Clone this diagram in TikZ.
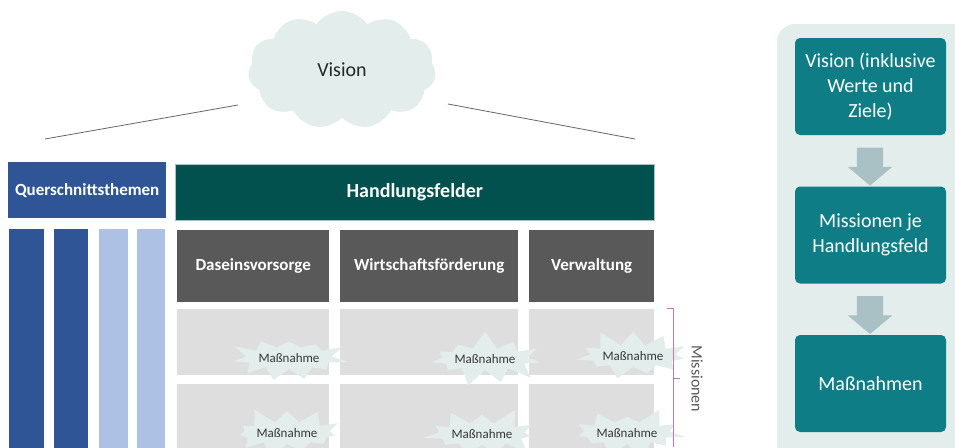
\documentclass[tikz,border=0pt]{standalone}
\usepackage{fontspec}
\setmainfont{Carlito}
\usetikzlibrary{shapes.symbols,shapes.arrows}

\definecolor{qblue}{HTML}{2F5597}
\definecolor{qlight}{HTML}{ADC1E5}
\definecolor{hteal}{HTML}{03514F}
\definecolor{hgray}{HTML}{595959}
\definecolor{mgray}{HTML}{DEDEDE}
\definecolor{haze}{HTML}{E2EDEC}
\definecolor{boxteal}{HTML}{0F7D86}
\definecolor{arrowgray}{HTML}{A9C1C5}
\definecolor{bracecol}{HTML}{C07AA5}

\tikzset{
	header/.style={
		fill=hgray, text=white, font=\fontsize{17}{20}\selectfont\bfseries,
		anchor=north west, inner sep=0pt, minimum height=72pt
	},
	field/.style={
		fill=mgray, anchor=north west, inner sep=0pt, minimum height=66pt
	},
	burst/.style={
		starburst, fill=haze, draw=none, starburst points=11,
		starburst point height=18pt, minimum width=108pt, minimum height=58pt,
		inner sep=0pt, font=\fontsize{13}{15}\selectfont, text=black!78
	},
	stepcard/.style={
		fill=boxteal, rounded corners=5pt, text=white, align=center,
		font=\fontsize{20}{25}\selectfont, minimum width=151pt, minimum height=97pt,
		inner sep=0pt
	},
	downarrow/.style={
		single arrow, fill=arrowgray, rotate=-90, inner xsep=0pt, inner ysep=13pt,
		single arrow head extend=9pt, single arrow tip angle=100,
		minimum height=38pt
	}
}

\begin{document}
\begin{tikzpicture}[x=1pt, y=-1pt]
	\useasboundingbox (0,0) rectangle (955,447);

	% Vision cloud and roof
	\node (vision)
	      [ cloud
	      , cloud puffs=11
	      , cloud puff arc=110
	      , aspect=1.7
	      , fill=haze
	      , minimum width=188pt
	      , minimum height=118pt
	      , font=\fontsize{20}{24}\selectfont
	      , text=black!85
	      ]
	      at (342,70)
	      {Vision};
	\coordinate (roofL) at (45,139);
	\coordinate (roofR) at (635,139);
	\coordinate (visL) at (238,105);
	\coordinate (visR) at (448,104);
	\draw [black!60, line width=0.8pt] (roofL) -- (visL);
	\draw [black!60, line width=0.8pt] (visR) -- (roofR);

	% Cross-cutting topics
	\node (quer)
	      [ fill=qblue
	      , text=white
	      , font=\fontsize{17}{20}\selectfont\bfseries
	      , anchor=north west
	      , minimum width=158pt
	      , minimum height=56pt
	      , inner sep=0pt
	      ]
	      at (8,162)
	      {Querschnittsthemen};
	\foreach \x/\w/\col [count=\i] in {9/35/qblue,54/34/qblue,99/29/qlight,137/28/qlight}{
		\node (bar\i)
		      [ fill=\col
		      , anchor=north west
		      , minimum width=\w pt
		      , minimum height=230pt
		      , inner sep=0pt
		      ]
		      at (\x,229)
		      {};
	}

	% Fields of action
	\node (hf)
	      [ fill=hteal
	      , draw=arrowgray
	      , line width=0.6pt
	      , text=white
	      , font=\fontsize{20}{24}\selectfont\bfseries
	      , anchor=north west
	      , minimum width=479pt
	      , minimum height=56pt
	      , inner sep=0pt
	      ]
	      at (175,164)
	      {Handlungsfelder};

	\foreach \name/\x/\w/\lab in {dv/177/152/Daseinsvorsorge,
	                              wf/340/178/Wirtschaftsförderung,
	                              vw/529/125/Verwaltung}{
		\node (\name) [header, minimum width=\w pt] at (\x,230) {\lab};
		\node (\name a) [field, minimum width=\w pt] at (\x,309) {};
		\node (\name b) [field, minimum width=\w pt] at (\x,384) {};
	}

	% Measures
	\foreach \mx/\my/\seed [count=\i] in {289/358/3,485/359/7,633/356/11,
	                                      287/433/5,482/434/9,627/433/13}{
		\node (mn\i) [burst, random starburst=\seed] at (\mx,\my) {Maßnahme};
	}

	% Missions bracket
	\coordinate (brTop) at (667,308);
	\coordinate (brMid) at (673,378);
	\draw [bracecol, line width=0.8pt]
	      (brTop) -- ++(6,0) -- (673,447);
	\draw [bracecol, line width=0.8pt] (brMid) -- ++(7,0);
	\node (missionen)
	      [ rotate=-90
	      , font=\fontsize{16}{19}\selectfont
	      , text=black!65
	      ]
	      at (697,379)
	      {Missionen};

	% Process panel
	\fill [haze, rounded corners=18pt] (777,24) rectangle (985,470);
	\node (s1) [stepcard] at (870.5,86.5) {Vision (inklusive\\Werte und\\Ziele)};
	\node (s2) [stepcard] at (870.5,235) {Missionen je\\Handlungsfeld};
	\node (s3) [stepcard] at (870.5,383.5) {Maßnahmen};
	\node (a1) [downarrow] at (870,161) {};
	\node (a2) [downarrow] at (870,309.5) {};
\end{tikzpicture}
\end{document}
